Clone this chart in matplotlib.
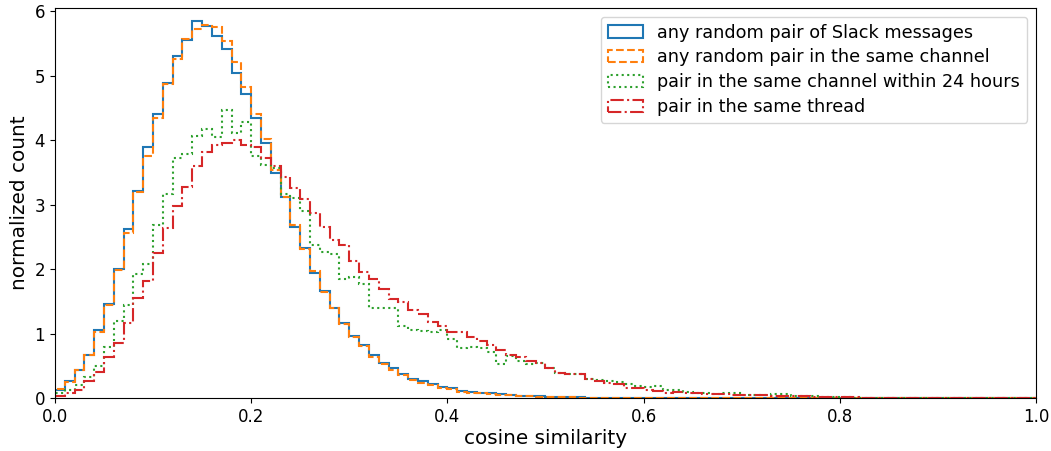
import numpy as np
import matplotlib
matplotlib.use("Agg")
import matplotlib.pyplot as plt

# bin edges: 100 bins of width 0.01 over cosine similarity [0, 1]
n_bins = 100
edges = np.linspace(0.0, 1.0, n_bins + 1)

labels = [
    "any random pair of Slack messages",
    "any random pair in the same channel",
    "pair in the same channel within 24 hours",
    "pair in the same thread",
]

any_pair = [
    0.12, 0.26, 0.435, 0.66, 1.05, 1.46, 2.00, 2.62, 3.215, 3.89,
    4.41, 4.88, 5.31, 5.55, 5.84, 5.775, 5.62, 5.41, 5.04, 4.71,
    4.35, 3.95, 3.49, 3.12, 2.645, 2.32, 1.94, 1.665, 1.40, 1.16,
    0.96, 0.82, 0.665, 0.55, 0.47, 0.38, 0.30, 0.27, 0.215, 0.17,
    0.15, 0.11, 0.09, 0.08, 0.07, 0.06, 0.045, 0.035, 0.03, 0.025,
    0.02, 0.015, 0.012, 0.008, 0.005, 0.003, 0.002, 0.001, 0, 0,
] + [0] * 40

same_channel = [
    0.14, 0.25, 0.43, 0.66, 1.02, 1.44, 1.98, 2.56, 3.19, 3.76,
    4.35, 4.87, 5.26, 5.56, 5.72, 5.79, 5.75, 5.53, 5.21, 4.82,
    4.40, 4.01, 3.54, 3.11, 2.69, 2.31, 1.97, 1.65, 1.39, 1.14,
    0.95, 0.80, 0.64, 0.52, 0.44, 0.36, 0.28, 0.24, 0.20, 0.16,
    0.14, 0.10, 0.08, 0.07, 0.06, 0.05, 0.04, 0.03, 0.025, 0.02,
    0.015, 0.012, 0.01, 0.006, 0.004, 0.002, 0.001, 0, 0, 0,
] + [0] * 40

within_24h = [
    0.07, 0.12, 0.20, 0.33, 0.49, 0.79, 1.20, 1.44, 1.93, 2.08,
    2.68, 3.16, 3.72, 3.78, 4.07, 4.17, 4.05, 4.47, 4.11, 4.28,
    3.76, 3.61, 3.56, 3.17, 3.10, 2.90, 2.37, 2.27, 2.24, 1.85,
    1.875, 1.77, 1.39, 1.39, 1.39, 1.11, 1.06, 1.04, 1.02, 1.05,
    0.91, 0.78, 0.79, 0.78, 0.71, 0.52, 0.65, 0.57, 0.53, 0.54,
    0.46, 0.39, 0.38, 0.365, 0.29, 0.28, 0.26, 0.25, 0.21, 0.18,
    0.17, 0.18, 0.13, 0.12, 0.09, 0.08, 0.07, 0.055, 0.07, 0.07,
    0.04, 0.04, 0.045, 0.055, 0.055, 0.03, 0.03, 0.03, 0.015, 0.01,
    0.008, 0.006, 0.005, 0.004, 0.003, 0.003, 0.002, 0.002, 0.001, 0.001,
] + [0] * 10

same_thread = [
    0.03, 0.08, 0.12, 0.27, 0.41, 0.63, 0.85, 1.17, 1.55, 1.81,
    2.25, 2.63, 2.98, 3.28, 3.60, 3.82, 3.92, 3.96, 4.00, 3.92,
    3.89, 3.72, 3.60, 3.43, 3.25, 3.08, 2.87, 2.645, 2.45, 2.37,
    2.13, 1.96, 1.85, 1.69, 1.54, 1.49, 1.37, 1.30, 1.18, 1.11,
    1.02, 1.02, 0.95, 0.88, 0.82, 0.75, 0.67, 0.64, 0.58, 0.55,
    0.46, 0.39, 0.38, 0.37, 0.29, 0.26, 0.24, 0.22, 0.16, 0.16,
    0.13, 0.11, 0.08, 0.095, 0.08, 0.07, 0.06, 0.055, 0.055, 0.045,
    0.04, 0.04, 0.04, 0.03, 0.03, 0.03, 0.025, 0.02, 0.015, 0.012,
    0.01, 0.008, 0.007, 0.006, 0.005, 0.004, 0.003, 0.003, 0.002, 0.002,
    0.001, 0, 0, 0, 0, 0, 0, 0, 0, 0,
]

series = [any_pair, same_channel, within_24h, same_thread]
colors = ["#1f77b4", "#ff7f0e", "#2ca02c", "#d62728"]
styles = ["-", "--", ":", "-."]

plt.rcParams["font.family"] = ["DejaVu Sans"]
plt.rcParams["font.size"] = 12

fig = plt.figure(figsize=(10.51, 4.51), dpi=100)
ax = fig.add_axes([0.0523, 0.1175, 0.9334, 0.865])

centers = 0.5 * (edges[:-1] + edges[1:])
for vals, lab, c, ls in zip(series, labels, colors, styles):
    ax.hist(centers, bins=edges, weights=np.asarray(vals, dtype=float),
            histtype="step", color=c, linestyle=ls, linewidth=1.5, label=lab)

ax.set_xlim(0, 1)
ax.set_ylim(0, 6.05)
ax.set_xticks([0.0, 0.2, 0.4, 0.6, 0.8, 1.0])
ax.set_yticks([0, 1, 2, 3, 4, 5, 6])
ax.tick_params(labelsize=12)
ax.set_xlabel("cosine similarity", fontsize=14.4, labelpad=2)
ax.set_ylabel("normalized count", fontsize=14.4, labelpad=4)
ax.legend(loc="upper right", fontsize=12.7, labelspacing=0.38,
          handlelength=2.0, handletextpad=0.8, borderaxespad=0.5)

fig.savefig("out.png", dpi=100)
